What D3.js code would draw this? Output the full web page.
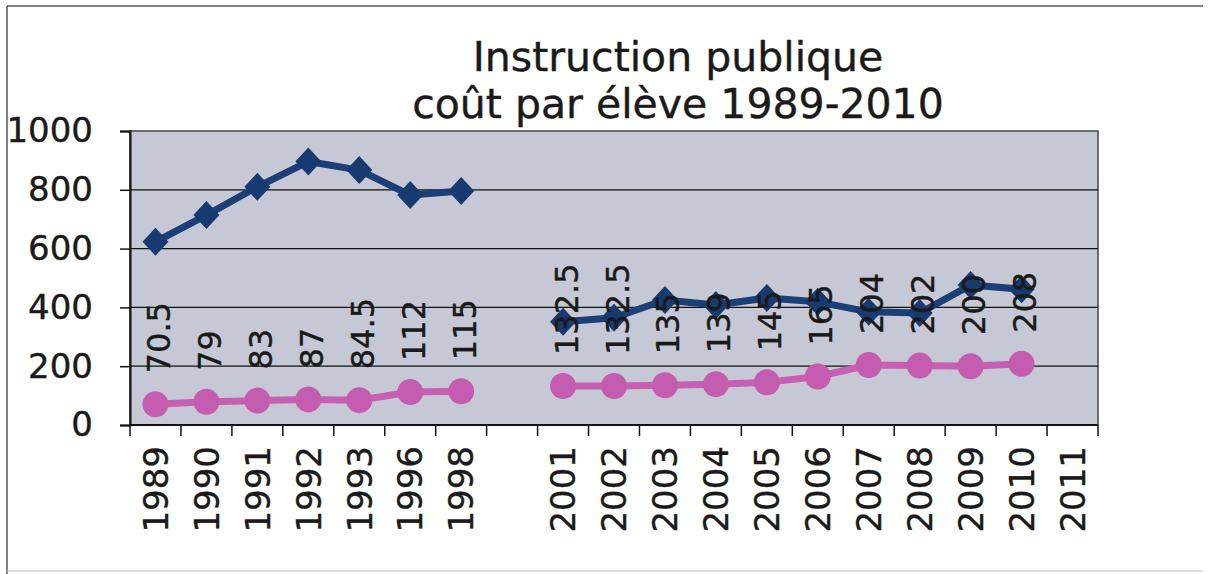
<!DOCTYPE html>
<html>
<head>
<meta charset="utf-8">
<script src="https://cdn.jsdelivr.net/npm/d3@7"></script>
<style>
  body { margin: 0; background: #fff; }
  text { font-family: "DejaVu Sans", Verdana, sans-serif; fill: #1a1a1a; stroke: #1a1a1a; stroke-width: 0.4px; }
</style>
</head>
<body>
<div id="vis"></div>
<script>
var width = 1210;
var height = 574;
var margin = {top: 131, right: 112, bottom: 149, left: 130};
var plotW = width - margin.left - margin.right;
var plotH = height - margin.top - margin.bottom;

// categories (the empty one is the gap between 1998 and 2001)
var years = ['1989', '1990', '1991', '1992', '1993', '1996', '1998', '',
             '2001', '2002', '2003', '2004', '2005', '2006', '2007', '2008', '2009', '2010', '2011'];
// blue series
var coutTotal = [623, 714, 810, 896, 867, 782, 796, null,
                 351, 365, 425, 408, 432, 419, 385, 381, 476, 462, null];
// pink series, values from its labels
var coutEleve = [70.5, 79, 83, 87, 84.5, 112, 115, null,
                 132.5, 132.5, 135, 139, 145, 165, 204, 202, 200, 208, null];
var yTicks = [0, 200, 400, 600, 800, 1000];
var titleLines = ['Instruction publique', 'coût par élève 1989-2010'];

var svg = d3.select('#vis').append('svg')
    .attr('width', width)
    .attr('height', height);

// outer frame
svg.append('line').attr('x1', 7).attr('y1', 6).attr('x2', 1203).attr('y2', 6)
   .attr('stroke', '#555').attr('stroke-width', 1.5);
svg.append('line').attr('x1', 7).attr('y1', 6).attr('x2', 7).attr('y2', 574)
   .attr('stroke', '#555').attr('stroke-width', 1.5);
svg.append('line').attr('x1', 7).attr('y1', 571).attr('x2', 1203).attr('y2', 571)
   .attr('stroke', '#bbb').attr('stroke-width', 1);

var x = d3.scaleBand().domain(d3.range(years.length)).range([0, plotW]);
var y = d3.scaleLinear().domain([0, 1000]).range([plotH, 0]);

var g = svg.append('g')
    .attr('transform', 'translate(' + margin.left + ',' + margin.top + ')');

g.append('rect')
  .attr('width', plotW)
  .attr('height', plotH)
  .attr('fill', '#c6c9d5')
  .attr('stroke', '#444')
  .attr('stroke-width', 1.5);

// gridlines
g.append('g').selectAll('line')
  .data(yTicks.filter(function(d) { return d > 0 && d < 1000; }))
  .enter().append('line')
  .attr('x1', 0).attr('x2', plotW)
  .attr('y1', function(d) { return y(d); })
  .attr('y2', function(d) { return y(d); })
  .attr('stroke', '#111')
  .attr('stroke-width', 1.3);

// y axis
var yAxis = d3.axisLeft(y).tickValues(yTicks).tickSize(10).tickPadding(27).tickFormat(d3.format('d'));
var yG = g.append('g').call(yAxis);
yG.select('.domain').attr('stroke', '#111').attr('stroke-width', 2);
yG.selectAll('.tick line').attr('stroke', '#111').attr('stroke-width', 1.5);
yG.selectAll('.tick text')
  .style('font-family', '"DejaVu Sans", Verdana, sans-serif')
  .style('font-size', '34px')
  .attr('fill', '#1a1a1a');

// x axis: ticks on category edges
var edges = d3.range(years.length + 1);
g.append('g').selectAll('line')
  .data(edges)
  .enter().append('line')
  .attr('x1', function(i) { return i * x.step(); })
  .attr('x2', function(i) { return i * x.step(); })
  .attr('y1', plotH)
  .attr('y2', plotH + 11)
  .attr('stroke', '#111')
  .attr('stroke-width', 1.5);
g.append('line')
  .attr('x1', 0).attr('x2', plotW)
  .attr('y1', plotH).attr('y2', plotH)
  .attr('stroke', '#111').attr('stroke-width', 2);

g.append('g').selectAll('text')
  .data(years)
  .enter().append('text')
  .attr('transform', function(d, i) {
    return 'translate(' + (x(i) + x.bandwidth() / 2) + ',' + (plotH + 21) + ')rotate(-90)';
  })
  .attr('text-anchor', 'end')
  .attr('dy', '0.36em')
  .style('font-size', '34px')
  .text(function(d) { return d; });

// lines
var line = d3.line()
    .defined(function(d) { return d != null; })
    .x(function(d, i) { return x(i) + x.bandwidth() / 2; })
    .y(function(d) { return y(d); });

g.append('path')
  .datum(coutTotal)
  .attr('d', line)
  .attr('fill', 'none')
  .attr('stroke', '#1c3f78')
  .attr('stroke-width', 7)
  .attr('stroke-linejoin', 'round');

g.append('path')
  .datum(coutEleve)
  .attr('d', line)
  .attr('fill', 'none')
  .attr('stroke', '#c660b3')
  .attr('stroke-width', 7);

// diamond markers
g.append('g').selectAll('path')
  .data(coutTotal.map(function(v, i) { return {v: v, i: i}; })
                 .filter(function(d) { return d.v != null; }))
  .enter().append('path')
  .attr('d', 'M0,-14L13,0L0,14L-13,0Z')
  .attr('transform', function(d) {
    return 'translate(' + (x(d.i) + x.bandwidth() / 2) + ',' + y(d.v) + ')';
  })
  .attr('fill', '#173a70');

// circle markers
g.append('g').selectAll('circle')
  .data(coutEleve.map(function(v, i) { return {v: v, i: i}; })
                 .filter(function(d) { return d.v != null; }))
  .enter().append('circle')
  .attr('cx', function(d) { return x(d.i) + x.bandwidth() / 2; })
  .attr('cy', function(d) { return y(d.v); })
  .attr('r', 13)
  .attr('fill', '#c45cb0');

// data labels of the pink series
g.append('g').selectAll('text')
  .data(coutEleve.map(function(v, i) { return {v: v, i: i}; })
                 .filter(function(d) { return d.v != null; }))
  .enter().append('text')
  .attr('transform', function(d) {
    return 'translate(' + (x(d.i) + x.bandwidth() / 2 + 3) + ',' + (y(d.v) - 31) + ')rotate(-90)';
  })
  .attr('text-anchor', 'start')
  .attr('dy', '0.36em')
  .style('font-size', '32px')
  .text(function(d) { return d.v; });

// title
svg.append('g').selectAll('text')
  .data(titleLines)
  .enter().append('text')
  .attr('x', 678)
  .attr('y', function(d, i) { return 71 + i * 47; })
  .attr('text-anchor', 'middle')
  .style('font-size', '41px')
  .text(function(d) { return d; });
</script>
</body>
</html>
